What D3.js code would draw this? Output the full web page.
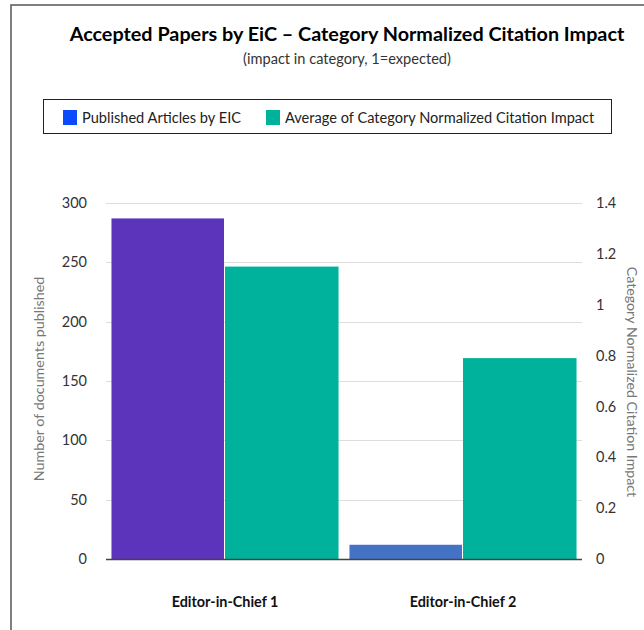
<!DOCTYPE html>
<html>
<head>
<meta charset="utf-8">
<script src="https://cdn.jsdelivr.net/npm/d3@7"></script>
<style>
  body { margin: 0; background: #fff; }
  text { font-family: Lato, "Open Sans", sans-serif; }
</style>
</head>
<body>
<svg id="chart"></svg>
<script>
const width = 644;
const height = 630;

// data
const editors = ['Editor-in-Chief 1', 'Editor-in-Chief 2'];
const series = ['articles', 'impact'];
const articles = [287, 12];
const impact = [1.15, 0.79];
const leftTicks = [0, 50, 100, 150, 200, 250, 300];
const rightTicks = [0, 0.2, 0.4, 0.6, 0.8, 1, 1.2, 1.4];
const legendLabels = ['Published Articles by EIC', 'Average of Category Normalized Citation Impact'];

const articleColors = ['#5C33BB', '#4472C4'];
const impactColor = '#00B29B';
const legendColors = ['#0A4BFF', '#00B29B'];

const plotLeft = 106, plotRight = 582, plotTop = 203, plotBottom = 559;

const svg = d3.select('#chart')
    .attr('width', width)
    .attr('height', height);

// outer frame
svg.append('rect')
    .attr('x', 11).attr('y', 5)
    .attr('width', 700).attr('height', 700)
    .attr('fill', 'none')
    .attr('stroke', '#555')
    .attr('stroke-width', 1.5);

svg.append('text')
    .attr('x', 347).attr('y', 41)
    .attr('text-anchor', 'middle')
    .style('font-size', '19.8px')
    .style('font-weight', 'bold')
    .attr('fill', '#000')
    .text('Accepted Papers by EiC \u2013 Category Normalized Citation Impact');

svg.append('text')
    .attr('x', 347).attr('y', 64)
    .attr('text-anchor', 'middle')
    .style('font-size', '14.6px')
    .attr('fill', '#333')
    .text('(impact in category, 1=expected)');

// legend
const legend = svg.append('g');
legend.append('rect')
    .attr('x', 43.5).attr('y', 99.5)
    .attr('width', 568).attr('height', 34)
    .attr('fill', '#fff')
    .attr('stroke', '#222')
    .attr('stroke-width', 1);

const legendX = [63, 266];
legendLabels.forEach((l, i) => {
    legend.append('rect')
        .attr('x', legendX[i]).attr('y', 110)
        .attr('width', 14).attr('height', 15)
        .attr('fill', legendColors[i]);
    legend.append('text')
        .attr('x', legendX[i] + 19).attr('y', 122.5)
        .style('font-size', '14.6px')
        .attr('fill', '#222')
        .text(l);
});

// scales
const x = d3.scaleBand().domain(editors).range([plotLeft, plotRight])
    .paddingInner(0.046).paddingOuter(0.023);
const xSub = d3.scaleBand().domain(series).range([0, x.bandwidth()]);
const yLeft = d3.scaleLinear().domain([0, 300]).range([plotBottom, plotTop]);
const yRight = d3.scaleLinear().domain([0, 1.4]).range([plotBottom, plotTop]);

// gridlines
svg.append('g')
    .selectAll('line')
    .data(leftTicks.filter(d => d > 0))
    .enter()
    .append('line')
    .attr('x1', plotLeft).attr('x2', plotRight)
    .attr('y1', d => Math.round(yLeft(d)) + 0.5)
    .attr('y2', d => Math.round(yLeft(d)) + 0.5)
    .attr('stroke', '#ddd')
    .attr('stroke-width', 1);

// bars
const groups = svg.append('g')
    .selectAll('g')
    .data(editors)
    .enter()
    .append('g')
    .attr('transform', d => `translate(${x(d)},0)`);

groups.append('rect')
    .attr('x', xSub('articles'))
    .attr('y', (d, i) => yLeft(articles[i]))
    .attr('width', xSub.bandwidth() - 1)
    .attr('height', (d, i) => plotBottom - yLeft(articles[i]))
    .attr('fill', (d, i) => articleColors[i]);

groups.append('rect')
    .attr('x', xSub('impact'))
    .attr('y', (d, i) => yRight(impact[i]))
    .attr('width', xSub.bandwidth())
    .attr('height', (d, i) => plotBottom - yRight(impact[i]))
    .attr('fill', impactColor);

// axes
const leftAxis = svg.append('g')
    .attr('transform', `translate(${plotLeft},0)`)
    .call(d3.axisLeft(yLeft).tickValues(leftTicks).tickSize(0).tickPadding(19));
leftAxis.select('.domain').remove();
leftAxis.selectAll('text')
    .style('font-size', '14.5px')
    .style('font-family', 'Lato, sans-serif')
    .attr('fill', '#333');

const rightAxis = svg.append('g')
    .attr('transform', `translate(${plotRight},0)`)
    .call(d3.axisRight(yRight).tickValues(rightTicks).tickSize(0).tickPadding(14)
        .tickFormat(d => d3.format('~g')(d)));
rightAxis.select('.domain').remove();
rightAxis.selectAll('text')
    .style('font-size', '14.5px')
    .style('font-family', 'Lato, sans-serif')
    .attr('fill', '#333');

// baseline
svg.append('line')
    .attr('x1', plotLeft).attr('x2', plotRight)
    .attr('y1', plotBottom + 0.5).attr('y2', plotBottom + 0.5)
    .attr('stroke', '#444')
    .attr('stroke-width', 1.5);

// category labels
const bottomAxis = svg.append('g')
    .attr('transform', `translate(0,${plotBottom})`)
    .call(d3.axisBottom(x).tickSize(0).tickPadding(38));
bottomAxis.select('.domain').remove();
bottomAxis.selectAll('text')
    .style('font-size', '14.4px')
    .style('font-weight', 'bold')
    .style('font-family', 'Lato, sans-serif')
    .attr('fill', '#111');

// axis titles
svg.append('text')
    .attr('transform', 'translate(44,379) rotate(-90)')
    .attr('text-anchor', 'middle')
    .style('font-size', '14.3px')
    .attr('fill', '#777')
    .text('Number of documents published');

svg.append('text')
    .attr('transform', 'translate(627,382) rotate(90)')
    .attr('text-anchor', 'middle')
    .style('font-size', '14.2px')
    .attr('fill', '#777')
    .text('Category Normalized Citation Impact');
</script>
</body>
</html>
